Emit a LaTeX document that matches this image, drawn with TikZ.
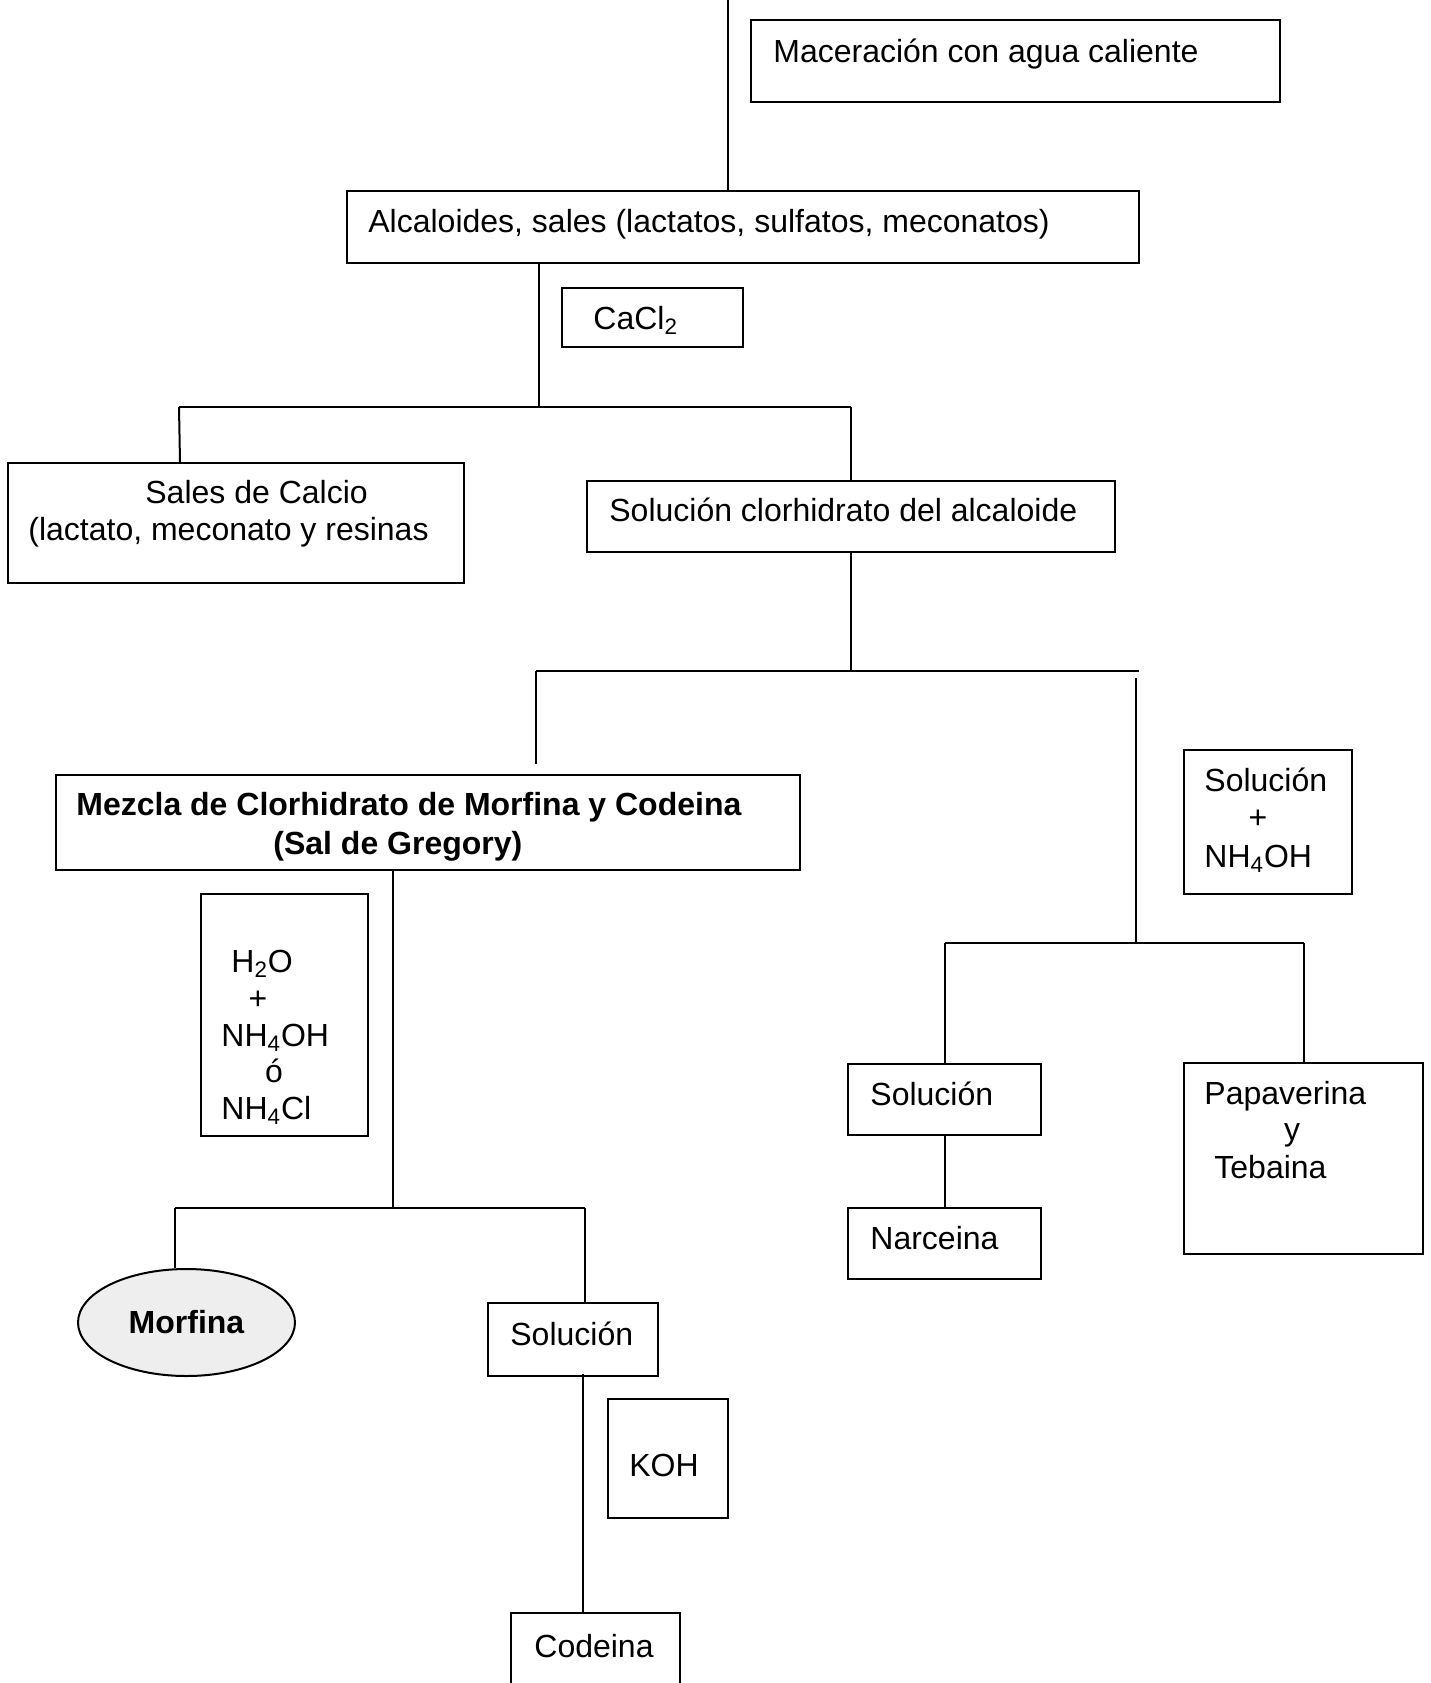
\documentclass[tikz,border=0pt]{standalone}
\usepackage{fontspec}
\setmainfont{Liberation Sans}
\usetikzlibrary{fit,shapes.geometric}
\newcommand{\mybox}[5]{%
  \coordinate (#1-a) at (#2,#3);
  \coordinate (#1-b) at (#4,#5);
  \node[box, fit=(#1-a)(#1-b)] (#1) {};}
\begin{document}
\begin{tikzpicture}[x=0.5pt,y=-0.5pt,
  box/.style={draw, line width=1pt, inner sep=0pt},
  txt/.style={anchor=base west, inner sep=0pt, font=\fontsize{16}{18.4}\selectfont},
  ctxt/.style={anchor=base, inner sep=0pt, font=\fontsize{16}{18.4}\selectfont},
  ln/.style={line width=1pt}]
\path[use as bounding box] (0,0) rectangle (1431,1683);
\clip (0,0) rectangle (1431,1683);

% boxes
\mybox{mac}{751}{20}{1280}{102}
\mybox{alc}{347}{191}{1139}{263}
\mybox{cacl}{562}{288}{743}{347}
\mybox{sal}{7.5}{463}{464}{583}
\mybox{solcl}{587}{481}{1115}{552}
\mybox{mez}{56}{775}{800}{870}
\mybox{solnh}{1184}{750}{1352}{894}
\mybox{hdo}{201}{894}{368}{1136}
\mybox{solb}{848}{1064}{1041}{1135}
\mybox{nar}{848}{1208}{1041}{1279}
\mybox{pap}{1184}{1063}{1423}{1254}
\mybox{solc}{488}{1303}{658}{1376}
\mybox{koh}{608}{1399}{728}{1518}
\mybox{cod}{511}{1613}{680}{1700}
\node[draw, line width=1pt, ellipse, inner sep=0pt, minimum width=108.5pt, minimum height=53.5pt,
  fill=gray!13, font=\fontsize{16}{18.4}\selectfont\bfseries] (morf) at (186.5,1322.5) {Morfina};

% texts
\node[txt] (tmac) at (773,62.5) {Maceración con agua caliente};
\node[txt] (talc) at (368,232) {Alcaloides, sales (lactatos, sulfatos, meconatos)};
\node[txt] (tcacl) at (593,329) {CaCl\textsubscript{2}};
\node[txt] (tsal1) at (145,503) {Sales de Calcio};
\node[txt] (tsal2) at (28,540) {(lactato, meconato y resinas};
\node[txt] (tsolcl) at (609,521) {Solución clorhidrato del alcaloide};
\node[txt, font=\fontsize{16}{18.4}\selectfont\bfseries] (tmez1) at (76,815) {Mezcla de Clorhidrato de Morfina y Codeina};
\node[txt, font=\fontsize{16}{18.4}\selectfont\bfseries] (tmez2) at (273,854) {(Sal de Gregory)};
\node[txt] (tsn1) at (1204,791) {Solución};
\node[ctxt] (tsn2) at (1258,828) {+};
\node[txt] (tsn3) at (1204,867) {NH\textsubscript{4}OH};
\node[txt] (th1) at (231,972) {H\textsubscript{2}O};
\node[ctxt] (th2) at (258,1009) {+};
\node[txt] (th3) at (221,1046) {NH\textsubscript{4}OH};
\node[ctxt] (th4) at (274,1082) {ó};
\node[txt] (th5) at (221,1119) {NH\textsubscript{4}Cl};
\node[txt] (tsolb) at (870,1105) {Solución};
\node[txt] (tnar) at (870,1249) {Narceina};
\node[txt] (tpap1) at (1204,1104) {Papaverina};
\node[ctxt] (tpap2) at (1292,1140) {y};
\node[txt] (tpap3) at (1214,1178) {Tebaina};
\node[txt] (tsolc) at (510,1345) {Solución};
\node[txt] (tkoh) at (629,1476) {KOH};
\node[txt] (tcod) at (534,1657) {Codeina};

% junction coordinates
\coordinate (top) at (728,0);
\coordinate (ja) at (539,407);
\coordinate (jaL) at (179,407);
\coordinate (jaR) at (851,407);
\coordinate (jb) at (851,671);
\coordinate (jbL) at (536,671);
\coordinate (jbR) at (1139,671);
\coordinate (jbLe) at (536,764);
\coordinate (jc) at (1136,678);
\coordinate (jcb) at (1136,943);
\coordinate (jcL) at (945,943);
\coordinate (jcR) at (1304,943);
\coordinate (jd) at (393,1208);
\coordinate (jdL) at (175,1208);
\coordinate (jdR) at (585,1208);
\coordinate (je) at (583,1374);

% connectors
\draw[ln] (top) -- (top |- alc.north);
\draw[ln] (ja |- alc.south) -- (ja);
\draw[ln] (jaL) -- (jaR);
\draw[ln] (jaL) -- ([xshift=0.5]jaL |- sal.north);
\draw[ln] (jaR) -- (jaR |- solcl.north);
\draw[ln] (jb |- solcl.south) -- (jb);
\draw[ln] (jbL) -- (jbR);
\draw[ln] (jbL) -- (jbLe);
\draw[ln] (jc) -- (jcb);
\draw[ln] (jcL) -- (jcR);
\draw[ln] (jcL) -- (jcL |- solb.north);
\draw[ln] (jcL |- solb.south) -- (jcL |- nar.north);
\draw[ln] (jcR) -- (jcR |- pap.north);
\draw[ln] (jd |- mez.south) -- (jd);
\draw[ln] (jdL) -- (jdR);
\draw[ln] (jdL) -- (jdL |- morf.north);
\draw[ln] (jdR) -- (jdR |- solc.north);
\draw[ln] (je) -- (je |- cod.north);
\end{tikzpicture}
\end{document}
